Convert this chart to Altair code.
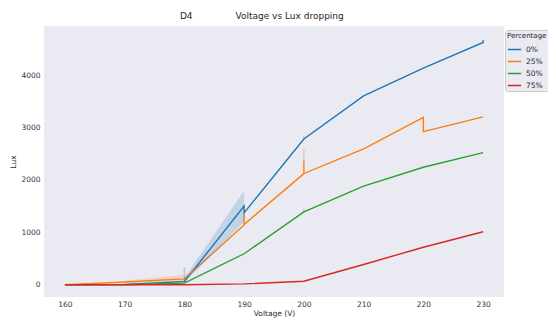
import altair as alt
import pandas as pd

# Line paths (sequence of points per series; repeated x gives vertical jumps)
v_0 = [160, 170, 180, 190, 190, 200, 210, 220, 230, 230]
lux_0 = [0, 5, 60, 1500, 1370, 2780, 3600, 4130, 4620, 4670]
v_25 = [160, 170, 180, 190, 190, 190, 200, 200, 200, 210, 220, 220, 230]
lux_25 = [0, 50, 110, 1140, 1360, 1150, 2120, 2370, 2120, 2590, 3190, 2920, 3200]
v_50 = [160, 170, 180, 190, 200, 210, 220, 230]
lux_50 = [0, 0, 30, 590, 1390, 1880, 2240, 2520]
v_75 = [160, 170, 180, 190, 200, 210, 220, 230]
lux_75 = [0, 0, 0, 15, 65, 385, 715, 1010]

# Confidence bands
band_series = ["0%", "0%", "25%", "25%"]
band_v = [180, 190, 170, 180]
band_lo = [40, 1200, 30, 60]
band_hi = [130, 1790, 80, 190]

# Vertical confidence ticks
tick_series = ["0%", "25%", "0%", "50%"]
tick_v = [180, 200, 200, 200]
tick_lo = [60, 2370, 2780, 1390]
tick_hi = [320, 2600, 2830, 1450]

series = ["0%", "25%", "50%", "75%"]
colors = ["#1f77b4", "#ff7f0e", "#2ca02c", "#d62728"]

rows = []
for name, vs, ys in zip(series, [v_0, v_25, v_50, v_75], [lux_0, lux_25, lux_50, lux_75]):
    for i, (v, y) in enumerate(zip(vs, ys)):
        rows.append({"Percentage": name, "Voltage": v, "Lux": y, "idx": i})
lines_df = pd.DataFrame(rows)
band_df = pd.DataFrame({"Percentage": band_series, "Voltage": band_v, "lo": band_lo, "hi": band_hi})
tick_df = pd.DataFrame({"Percentage": tick_series, "Voltage": tick_v, "lo": tick_lo, "hi": tick_hi})

xscale = alt.Scale(domain=[156.5, 233.5], nice=False, zero=False)
yscale = alt.Scale(domain=[-235, 4935], nice=False, zero=False)
cscale = alt.Scale(domain=series, range=colors)

xaxis = alt.Axis(values=[160, 170, 180, 190, 200, 210, 220, 230], title="Voltage (V)",
                 grid=False, domain=False, ticks=False, labelPadding=3, titlePadding=2, format="d")
yaxis = alt.Axis(values=[0, 1000, 2000, 3000, 4000], title="Lux",
                 grid=False, domain=False, ticks=False, labelPadding=4, titlePadding=3, format="d")

legend = alt.Legend(title="Percentage", orient="none", legendX=461, legendY=4,
                    symbolType="stroke", symbolStrokeWidth=1.5, symbolSize=180,
                    symbolOpacity=1)

lines = alt.Chart(lines_df).mark_line(strokeWidth=1.4).encode(
    x=alt.X("Voltage:Q", scale=xscale, axis=xaxis),
    y=alt.Y("Lux:Q", scale=yscale, axis=yaxis),
    color=alt.Color("Percentage:N", scale=cscale, legend=legend),
    order="idx:Q",
)

bands = alt.Chart(band_df).mark_area(opacity=0.2).encode(
    x=alt.X("Voltage:Q", scale=xscale),
    y=alt.Y("lo:Q", scale=yscale),
    y2="hi:Q",
    color=alt.Color("Percentage:N", scale=cscale, legend=None),
    detail="Percentage:N",
)

ticks = alt.Chart(tick_df).mark_rule(opacity=0.3, strokeWidth=1.5).encode(
    x=alt.X("Voltage:Q", scale=xscale),
    y=alt.Y("lo:Q", scale=yscale),
    y2="hi:Q",
    color=alt.Color("Percentage:N", scale=cscale, legend=None),
)

title_text = "D4" + "\u00a0" * 15 + "Voltage vs Lux dropping"

chart = alt.layer(lines, bands, ticks).resolve_legend(color="independent").properties(
    width=460, height=271,
    autosize=alt.AutoSizeParams(type="none"),
    padding={"left": 36, "top": 18, "right": 44, "bottom": 24},
    title=alt.TitleParams(title_text, anchor="start", dx=170, offset=5, fontSize=9,
                          fontWeight="normal", font="DejaVu Sans", color="#262626"),
).configure_view(fill="#EAEAF2", stroke=None).configure_axis(
    labelFont="DejaVu Sans", titleFont="DejaVu Sans", labelFontSize=7.5, titleFontSize=7.5,
    labelColor="#333333", titleColor="#262626", titleFontWeight="normal",
).configure_legend(
    labelFont="DejaVu Sans", titleFont="DejaVu Sans", labelFontSize=7.5, titleFontSize=7,
    titleFontWeight="normal", labelColor="#262626", titleColor="#262626",
    fillColor="#EAEAF2", strokeColor="#CCCCCC", padding=2, cornerRadius=2,
    rowPadding=1, titlePadding=3,
)

chart.save("out.html", embed_options={"renderer": "svg", "actions": False})
